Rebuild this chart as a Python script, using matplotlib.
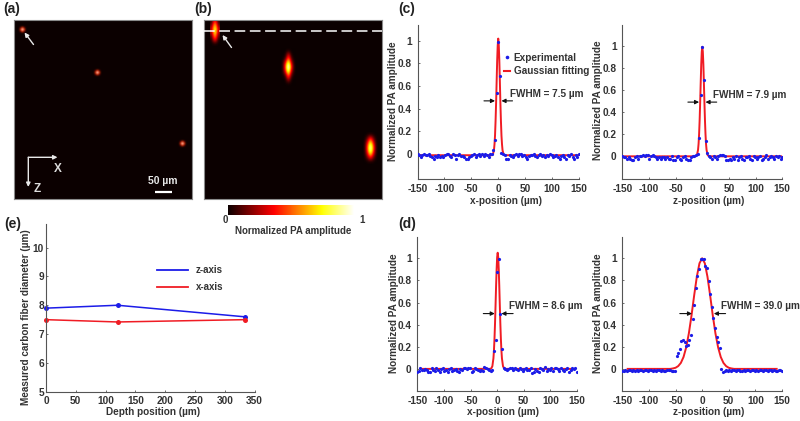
import matplotlib
matplotlib.use('Agg')
import matplotlib.pyplot as plt
from matplotlib.lines import Line2D
from matplotlib.transforms import Affine2D
from matplotlib.cm import ScalarMappable
from matplotlib.colors import Normalize

plt.rcParams['font.family'] = ['Liberation Sans', 'DejaVu Sans']
plt.rcParams['font.weight'] = 'bold'
plt.rcParams['axes.labelweight'] = 'bold'
plt.rcParams['axes.unicode_minus'] = False
plt.rcParams['font.size'] = 7
plt.rcParams['axes.labelsize'] = 7.2
plt.rcParams['xtick.labelsize'] = 7.3
plt.rcParams['ytick.labelsize'] = 7.3

W, H = 800, 421
TXT = '#333333'
BLUE = '#1c1ce8'
RED = '#f01c24'

############# Data #############
pos = [-150, -147, -144, -141, -138, -135, -132, -129, -126, -123,
       -120, -117, -114, -111, -108, -105, -102, -99, -96, -93,
       -90, -87, -84, -81, -78, -75, -72, -69, -66, -63,
       -60, -57, -54, -51, -48, -45, -42, -39, -36, -33,
       -30, -27, -24, -21, -18, -15, -12, -9, -6, -3,
       0, 3, 6, 9, 12, 15, 18, 21, 24, 27,
       30, 33, 36, 39, 42, 45, 48, 51, 54, 57,
       60, 63, 66, 69, 72, 75, 78, 81, 84, 87,
       90, 93, 96, 99, 102, 105, 108, 111, 114, 117,
       120, 123, 126, 129, 132, 135, 138, 141, 144, 147,
       150]

c1_exp = [0, -.01, -.03, -.01, 0, -.01, -.01, 0, -.02, -.03,
          -.04, -.02, -.03, -.01, -.03, -.02, -.03, -.01, 0, 0,
          -.02, -.03, 0, -.01, -.04, -.01, 0, -.02, -.02, -.03,
          -.04, -.04, -.03, -.02, -.01, 0, -.03, -.01, 0, -.02,
          0, -.02, 0, -.01, -.03, 0, 0, .04, .12, .54,
          .99, .69, .01, 0, -.01, -.04, -.04, -.01, -.02, -.03,
          -.01, 0, -.02, 0, 0, -.02, -.01, -.03, -.04, -.02,
          -.01, -.01, 0, -.02, -.03, -.01, 0, -.02, -.01, -.03,
          -.01, -.02, 0, -.01, -.03, -.02, -.01, -.03, -.04, -.02,
          -.01, -.03, -.04, -.01, -.02, 0, -.03, -.04, -.01, -.03,
          0]
c2_exp = [0, -.01, -.01, -.02, -.01, -.02, -.03, -.03, -.01, 0,
          -.02, 0, 0, .01, 0, .01, .01, -.02, 0, .01,
          0, -.01, -.02, -.01, -.02, -.01, -.01, -.02, -.01, -.02,
          -.02, 0, -.03, -.03, -.01, 0, -.02, -.03, -.01, 0,
          -.02, -.03, -.03, -.01, 0, 0, .01, .02, .17, .55,
          .99, .69, .14, .03, 0, -.01, -.02, 0, -.01, -.02,
          0, .01, .01, .01, 0, -.03, -.03, -.02, -.03, -.01,
          -.02, 0, -.03, -.01, 0, -.02, -.03, -.01, -.01, 0,
          -.02, -.03, 0, -.01, -.02, -.01, 0, -.03, -.02, -.01,
          .01, -.02, -.01, 0, -.01, -.02, 0, -.01, 0, -.02,
          -.01]
d1_exp = [-.03, -.02, .01, -.01, -.01, .0, -.01, -.03, -.03, .01,
          -.01, -.02, .01, -.01, -.03, 0, .01, -.02, -.01, -.03,
          0, .01, -.02, -.01, .0, -.02, -.03, 0, -.01, .01,
          .01, 0, .01, .01, -.03, -.02, .01, 0, -.01, -.02,
          -.01, -.02, .02, .01, 0, -.01, -.02, -.01, .16, .26,
          .88, .99, .50, .18, .01, 0, -.01, 0, .01, .01,
          -.01, .01, 0, -.01, .01, 0, -.02, 0, .01, -.01,
          -.01, .01, -.04, -.03, 0, -.02, -.03, .01, 0, -.01,
          .02, -.02, 0, -.01, .01, -.02, .01, .01, 0, -.02,
          .01, -.01, -.02, 0, .01, -.03, -.01, .01, 0, .01,
          -.03]
d2_exp = [-.02, -.02, -.01, -.02, -.01, -.01, -.02, -.01, -.02, -.01,
          -.02, -.01, -.01, -.02, -.01, -.01, -.02, -.01, -.01, -.02,
          -.01, -.02, -.01, -.01, -.02, -.01, -.02, -.02, -.01, -.01,
          -.01, -.015, -.015, -.02, .12, .14, .18, .25, .26, .24,
          .21, .22, .26, .31, .45, .58, .73, .84, .90, .99,
          .99, .99, .93, .91, .79, .68, .56, .46, .37, .29,
          .24, .19, 0, -.03, -.02, -.01, -.02, -.01, -.02, -.01,
          -.01, -.02, -.01, -.01, -.02, -.02, -.01, -.02, -.01, -.01,
          -.02, -.01, -.01, -.02, -.01, -.02, -.01, -.01, -.02, -.01,
          -.01, -.02, -.01, -.01, -.02, -.01, -.02, -.02, -.01, -.01,
          -.02]

c1_fit_x = [-150, -14, -12, -10, -8, -7, -6, -5, -4, -3, -2, -1, 0, 1, 2, 3, 4, 5, 6, 7, 8, 10, 12, 14, 150]
c1_fit_y = [-.01, -.01, -.01, -.003, .033, .085, .162, .29, .45, .64, .826, .96, 1.02, .96, .826, .64, .45, .29, .162, .085, .033, -.003, -.01, -.01, -.01]
c2_fit_x = [-150, -14, -12, -10, -8, -7, -6, -5, -4, -3, -2, -1, 0, 1, 2, 3, 4, 5, 6, 7, 8, 10, 12, 14, 150]
c2_fit_y = [0, 0, .002, .012, .058, .112, .2, .325, .486, .663, .83, .945, .99, .945, .83, .663, .486, .325, .2, .112, .058, .012, .002, 0, 0]
d1_fit_x = [-140, -13, -11, -9, -7, -6, -5, -4, -3, -2, -1, 0, 1, 2, 3, 4, 5, 6, 7, 8, 9, 11, 13, 15, 140]
d1_fit_y = [0, 0, .005, .024, .095, .167, .272, .41, .575, .75, .90, 1.01, 1.05, 1.01, .90, .75, .575, .41, .272, .167, .095, .024, .005, 0, 0]
d2_fit_x = [-140, -60, -55, -50, -45, -40, -35, -30, -25, -20, -15, -10, -5, 0, 5, 10, 15, 20, 25, 30, 35, 40, 45, 50, 55, 60, 140]
d2_fit_y = [0, 0, .004, .01, .025, .054, .107, .194, .32, .482, .664, .833, .955, 1, .955, .833, .664, .482, .32, .194, .107, .054, .025, .01, .004, 0, 0]

depth = [0, 120, 333]
z_axis = [7.9, 8.0, 7.6]
x_axis = [7.5, 7.42, 7.5]

# small intensity grids of the fibre spots, rows run top to bottom
spot_a = [[0, 0, 0, 0, 0],
          [0, .15, .45, .15, 0],
          [0, .45, 1.0, .45, 0],
          [0, .15, .45, .15, 0],
          [0, 0, 0, 0, 0]]
spot_b1 = [[0, .25, 0], [0, .50, 0], [.12, .80, .12], [.25, 1, .25], [.12, .80, .12], [0, .55, 0], [0, 0, 0]]
spot_b2 = [[0, 0, 0, 0, 0], [0, 0, .30, 0, 0], [0, .08, .60, .08, 0], [0, .38, .95, .25, 0], [0, .50, 1.2, .42, 0],
           [0, .38, .95, .25, 0], [0, .08, .60, .08, 0], [0, 0, .25, 0, 0], [0, 0, 0, 0, 0]]
spot_b3 = [[0, 0, 0, 0, 0], [0, .15, .50, .15, 0], [0, .38, .90, .38, 0], [0, .50, 1.1, .50, 0],
           [0, .38, .90, .38, 0], [0, .15, .45, .15, 0], [0, 0, 0, 0, 0]]
#####################################################

fig = plt.figure(figsize=(W/100, H/100), dpi=100)
px = Affine2D().scale(1, -1).translate(0, H)


def make_axes(x0, x1, ytop, ybot):
    return fig.add_axes([x0/W, 1-ybot/H, (x1-x0)/W, (ybot-ytop)/H])


def image_axes(x0, x1, ytop, ybot):
    # data coords of these axes are just picture pixels
    ax = make_axes(x0, x1, ytop, ybot)
    ax.set_facecolor(plt.get_cmap('hot')(0))
    ax.set_xticks([])
    ax.set_yticks([])
    for s in ax.spines.values():
        s.set_color('#8a8a8a')
        s.set_linewidth(0.8)
    return ax


def add_spot(ax, grid, x0, x1, ytop, ybot):
    ax.imshow(grid, cmap='hot', vmin=0, vmax=1, interpolation='bicubic',
              extent=(x0, x1, ybot, ytop), aspect='auto', zorder=1)


def white_arrow(ax, tail, head, lw=1.0):
    ax.annotate('', xy=head, xytext=tail, zorder=5,
                arrowprops=dict(arrowstyle='-|>', color='#e8e8e8', lw=lw,
                                mutation_scale=6, shrinkA=0, shrinkB=0))


def bold_ticks(ax):
    for lab in ax.get_xticklabels() + ax.get_yticklabels():
        lab.set_fontweight('bold')


# (a)
ax_a = image_axes(14, 192, 20, 199)
add_spot(ax_a, spot_a, 17.5, 26.5, 25.5, 34.5)
add_spot(ax_a, spot_a, 92.5, 101.5, 68.5, 77.5)
add_spot(ax_a, spot_a, 177.5, 186.5, 139, 148)
ax_a.set_xlim(14, 192)
ax_a.set_ylim(199, 20)
white_arrow(ax_a, (33.5, 44.5), (24.5, 32.5))
white_arrow(ax_a, (28.3, 157.3), (57.5, 157.3))
white_arrow(ax_a, (28.3, 157.3), (28.3, 187))
ax_a.text(57.5, 168.5, 'X', color='#dddddd', fontsize=8.5, ha='center', va='center')
ax_a.text(37, 188.5, 'Z', color='#dddddd', fontsize=8.5, ha='center', va='center')
ax_a.text(163, 181, '50 µm', color='#e6e6e6', fontsize=7.5, ha='center', va='center')
ax_a.plot([155, 171.7], [191.7, 191.7], color='white', lw=1.6, solid_capstyle='butt')

# (b)
ax_b = image_axes(204, 382, 20, 199)
add_spot(ax_b, spot_b1, 210, 220, 14, 46)
add_spot(ax_b, spot_b2, 281, 296, 48, 86)
add_spot(ax_b, spot_b3, 363, 378, 132, 164)
ax_b.set_xlim(204, 382)
ax_b.set_ylim(199, 20)
ax_b.plot([204, 382], [30.5, 30.5], color='white', lw=1.1, dashes=(7, 3), zorder=4)
white_arrow(ax_b, (231.5, 47.5), (222.5, 35))

# colorbar
cax = make_axes(228, 354, 204.5, 215)
cb = fig.colorbar(ScalarMappable(Normalize(0, 1), 'hot'), cax=cax, orientation='horizontal')
cb.set_ticks([])
cb.outline.set_visible(False)
fig.text(225, 220, '0', transform=px, color=TXT, ha='center', va='center')
fig.text(362.5, 220, '1', transform=px, color=TXT, ha='center', va='center')
fig.text(293, 230.5, 'Normalized PA amplitude', transform=px, color=TXT, ha='center', va='center')


def profile_axes(box, ylim, xlab_at, ylab_at, xlabel, exp, fit_x, fit_y, arrows, arrow_y, label, label_at):
    ax = make_axes(*box)
    ax.plot(fit_x, fit_y, color=RED, lw=1.4, zorder=2)
    ax.plot(pos, exp, ls='none', marker='o', ms=2.3, mec='none', color=BLUE, zorder=3)
    ax.set_xlim(-150, 150)
    ax.set_ylim(*ylim)
    ax.set_xticks([-150, -100, -50, 0, 50, 100, 150])
    ax.set_yticks([0, .2, .4, .6, .8, 1])
    ax.set_yticklabels(['0', '0.2', '0.4', '0.6', '0.8', '1'])
    ax.spines[['top', 'right']].set_visible(False)
    ax.spines[['left', 'bottom']].set_color('#555555')
    ax.spines[['left', 'bottom']].set_linewidth(0.8)
    ax.tick_params(direction='in', length=1.5, width=0.6, color='#555555', labelcolor=TXT)
    ax.tick_params(axis='x', pad=3.5)
    ax.tick_params(axis='y', pad=4)
    bold_ticks(ax)
    ax.set_xlabel(xlabel, color=TXT, va='center')
    ax.set_ylabel('Normalized PA amplitude', color=TXT, va='center')
    ax.xaxis.set_label_coords(*xlab_at, transform=px)
    ax.yaxis.set_label_coords(*ylab_at, transform=px)
    for tail, head in arrows:
        ax.annotate('', xy=(head, arrow_y), xytext=(tail, arrow_y),
                    arrowprops=dict(arrowstyle='-|>', color='#111111', lw=0.8,
                                    mutation_scale=6, shrinkA=0, shrinkB=0))
    ax.text(label_at[0], label_at[1], label, color=TXT, ha='left', va='center', fontsize=7.2)
    return ax


ax_c1 = profile_axes((417.5, 579, 25, 179), (-.22, 1.14), (505.7, 201), (393, 101), 'x-position (µm)',
                     c1_exp, c1_fit_x, c1_fit_y, [(-26.5, -6), (26.5, 6)], .47, 'FWHM = 7.5 µm', (21, .535))
ax_c2 = profile_axes((622.3, 782.3, 25, 179), (-.205, 1.187), (709, 201), (598, 100), 'z-position (µm)',
                     c2_exp, c2_fit_x, c2_fit_y, [(-27, -6), (27, 6)], .49, 'FWHM = 7.9 µm', (20.6, .557))
ax_d1 = profile_axes((417.3, 577, 236.7, 391), (-.2, 1.195), (503, 412), (394, 313), 'x-position (µm)',
                     d1_exp, d1_fit_x, d1_fit_y, [(-26, -4.5), (30, 8)], .5, 'FWHM = 8.6 µm', (22, .57))
ax_d2 = profile_axes((622.3, 782, 236.7, 391), (-.2, 1.195), (709, 412), (598, 313), 'z-position (µm)',
                     d2_exp, d2_fit_x, d2_fit_y, [(-42, -19), (44, 22)], .5, 'FWHM = 39.0 µm', (35.6, .57))

ax_c1.legend(handles=[Line2D([], [], ls='none', marker='o', ms=2.6, mec='none', color=BLUE, label='Experimental'),
                      Line2D([], [], color=RED, lw=1.5, label='Gaussian fitting')],
             loc='center left', bbox_to_anchor=(504, 64.5), bbox_transform=px, frameon=False,
             handlelength=0.6, handletextpad=0.35, labelspacing=0.37, labelcolor=TXT,
             borderpad=0, borderaxespad=0, fontsize=7.2)

# (e)
ax_e = make_axes(46, 254.7, 224, 391.7)
ax_e.plot(depth, z_axis, color=BLUE, lw=1.1, marker='o', ms=3.6, mec='none')
ax_e.plot(depth, x_axis, color=RED, lw=1.1, marker='o', ms=3.6, mec='none')
ax_e.set_xlim(0, 350)
ax_e.set_ylim(5, 10.82)
ax_e.set_xticks([0, 50, 100, 150, 200, 250, 300, 350])
ax_e.set_yticks([5, 6, 7, 8, 9, 10])
ax_e.spines[['top', 'right']].set_visible(False)
ax_e.spines[['left', 'bottom']].set_color('#555555')
ax_e.spines[['left', 'bottom']].set_linewidth(0.8)
ax_e.tick_params(direction='in', length=1.5, width=0.6, color='#555555', labelcolor=TXT)
ax_e.tick_params(axis='x', pad=3)
ax_e.tick_params(axis='y', pad=1.5)
bold_ticks(ax_e)
for m in ax_e.lines:
    m.set_clip_on(False)
ax_e.set_xlabel('Depth position (µm)', color=TXT, va='center')
ax_e.set_ylabel('Measured carbon fiber diameter (µm)', color=TXT, va='center')
ax_e.xaxis.set_label_coords(153, 412, transform=px)
ax_e.yaxis.set_label_coords(26, 317.5, transform=px)
ax_e.legend(handles=[Line2D([], [], color=BLUE, lw=1.3, label='z-axis'),
                     Line2D([], [], color=RED, lw=1.3, label='x-axis')],
            loc='center left', bbox_to_anchor=(157, 278.5), bbox_transform=px, frameon=False,
            handlelength=3.2, handletextpad=0.8, labelspacing=0.72, labelcolor=TXT,
            borderpad=0, borderaxespad=0, fontsize=7)

for lab, x, y in [('(a)', 3, 9), ('(b)', 194, 9), ('(c)', 398, 9), ('(d)', 398, 224), ('(e)', 4, 224)]:
    fig.text(x, y, lab, transform=px, color='#222222', fontsize=10, ha='left', va='center')

fig.savefig('out.png', dpi=100)
